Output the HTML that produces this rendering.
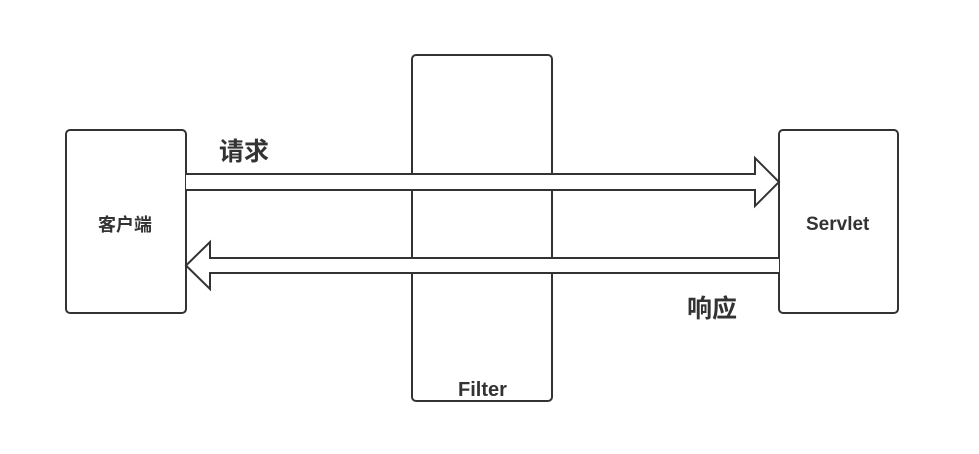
<!DOCTYPE html>
<html><head><meta charset="utf-8"><style>
body{margin:0;background:#fff}
svg{display:block}
text{font-family:"Liberation Sans","Noto Sans CJK SC",sans-serif;font-weight:bold;fill:#333}
</style></head><body>
<svg width="979" height="454" viewBox="0 0 979 454">
<rect x="412" y="55" width="140" height="346" rx="4" fill="#fff" stroke="#333" stroke-width="2"/>
<rect x="66" y="130" width="120" height="183" rx="4" fill="#fff" stroke="#333" stroke-width="2"/>
<rect x="779" y="130" width="119" height="183" rx="4" fill="#fff" stroke="#333" stroke-width="2"/>
<path d="M186 174 H755 V158 L779 182 L755 206 V190 H186" fill="#fff" stroke="#333" stroke-width="2" stroke-linejoin="miter"/>
<path d="M779 258 H210 V242 L186 265.5 L210 289 V273 H779" fill="#fff" stroke="#333" stroke-width="2"/>
<text x="219" y="160" font-size="25">请求</text>
<text x="687" y="317" font-size="25">响应</text>
<text x="98" y="231" font-size="18">客户端</text>
<text x="806" y="230" font-size="19">Servlet</text>
<text x="458" y="396" font-size="20">Filter</text>
</svg>
</body></html>
